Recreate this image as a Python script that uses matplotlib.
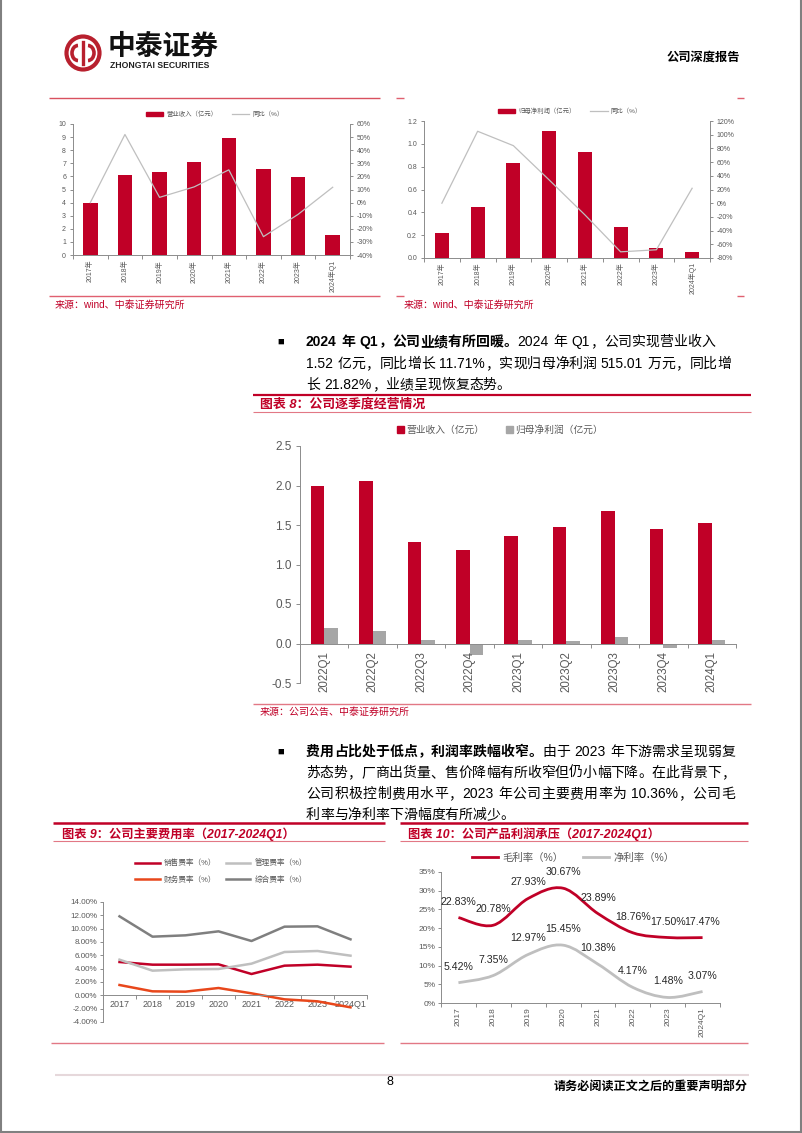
import re
import numpy as np
import matplotlib
matplotlib.use('Agg')
import matplotlib.pyplot as plt
from matplotlib.lines import Line2D
from matplotlib.patches import Patch, Circle, Arc, PathPatch
from matplotlib.path import Path
from matplotlib.ticker import FuncFormatter, MultipleLocator

plt.rcParams['font.family'] = ['Liberation Sans', 'Noto Sans CJK SC']
plt.rcParams['axes.unicode_minus'] = False

# ---- data ----
years = ['2017年', '2018年', '2019年', '2020年', '2021年', '2022年', '2023年', '2024年Q1']
revenue = [4.0, 6.1, 6.35, 7.1, 8.9, 6.55, 5.95, 1.52]
revenue_yoy = [0, 52, 4, 12, 25, -26, -9, 11.71]
net_profit = [0.22, 0.45, 0.83, 1.11, 0.925, 0.27, 0.085, 0.0515]
net_profit_yoy = [0, 105, 84, 34, -17, -71, -68, 21.82]

quarters = ['2022Q1', '2022Q2', '2022Q3', '2022Q4', '2023Q1', '2023Q2', '2023Q3', '2023Q4', '2024Q1']
q_revenue = [2.00, 2.06, 1.29, 1.18, 1.36, 1.47, 1.68, 1.45, 1.52]
q_profit = [0.20, 0.16, 0.05, -0.14, 0.05, 0.03, 0.08, -0.06, 0.05]

periods = ['2017', '2018', '2019', '2020', '2021', '2022', '2023', '2024Q1']
sales_rate = [5.0, 4.6, 4.6, 4.65, 3.2, 4.45, 4.6, 4.3]
admin_rate = [5.35, 3.7, 3.9, 3.95, 4.75, 6.5, 6.65, 5.95]
fin_rate = [1.55, 0.6, 0.55, 1.1, 0.3, -0.6, -0.9, -1.8]
total_rate = [11.85, 8.8, 9.0, 9.6, 8.15, 10.3, 10.35, 8.4]
gross_margin = [22.83, 20.78, 27.93, 30.67, 23.89, 18.76, 17.50, 17.47]
net_margin = [5.42, 7.35, 12.97, 15.45, 10.38, 4.17, 1.48, 3.07]

RED = '#c00027'
PINK = '#e27885'
LGRAY = '#bfbfbf'
DGRAY = '#7f7f7f'
BARGRAY = '#a6a6a6'
ORANGE = '#e8471b'
AXC = '#8c8c8c'
TXT = '#595959'

W, H = 802, 1133
fig = plt.figure(figsize=(8.02, 11.33), dpi=100)
page = fig.add_axes([0, 0, 1, 1])
page.set_xlim(0, W)
page.set_ylim(H, 0)
page.axis('off')


def hline(x0, x1, y, color=PINK, lw=1.0):
    page.plot([x0, x1], [y, y], color=color, lw=lw, solid_capstyle='butt')


def chart_ax(l, t, r, b):
    ax = fig.add_axes([l / W, 1 - b / H, (r - l) / W, (b - t) / H])
    ax.patch.set_alpha(0)
    for s in ['top', 'right']:
        ax.spines[s].set_visible(False)
    for s in ['left', 'bottom']:
        ax.spines[s].set_color(AXC)
        ax.spines[s].set_linewidth(0.7)
    ax.tick_params(colors=AXC, labelcolor=TXT, width=0.7)
    return ax


def cat_axis(ax, labels, fs, rot=90, pad=2):
    n = len(labels)
    ax.set_xlim(-0.5, n - 0.5)
    ax.set_xticks(range(n))
    ax.set_xticklabels(labels, rotation=rot, fontsize=fs, color=TXT, ha='center', va='top')
    ax.set_xticks(np.arange(-0.5, n), minor=True)
    ax.tick_params(axis='x', which='major', length=0, pad=pad)
    ax.tick_params(axis='x', which='minor', length=3, color=AXC, width=0.7)


def pct(fmt):
    return FuncFormatter(lambda v, p: fmt.format(v))


def smooth_path(xs, ys, t=1 / 6):
    pts = np.column_stack([xs, ys]).astype(float)
    verts, codes = [pts[0]], [Path.MOVETO]
    n = len(pts)
    for i in range(n - 1):
        p0, p1 = pts[max(i - 1, 0)], pts[i]
        p2, p3 = pts[i + 1], pts[min(i + 2, n - 1)]
        verts += [p1 + (p2 - p0) * t, p2 - (p3 - p1) * t, p2]
        codes += [Path.CURVE4] * 3
    return Path(verts, codes)


def text_line(segs, x0, y, x1=None, fs=10):
    r = fig.canvas.get_renderer()
    em = fs * 100 / 72
    arts, ws = [], []
    for txt, wt in segs:
        for tok in re.findall(r'[0-9A-Za-z.%]+| |.', txt):
            if tok == ' ':
                arts.append(None)
                ws.append(em * 0.28)
                continue
            t = page.text(x0, y, tok, fontsize=fs, fontweight=wt, ha='left', va='center', color='black')
            arts.append(t)
            if ord(tok[0]) > 0x2E80:
                ws.append(em)
            else:
                ws.append(t.get_window_extent(r).width + em * 0.05)
    gap = 0.0
    if x1 is not None and len(ws) > 1:
        gap = (x1 - x0 - sum(ws)) / (len(ws) - 1)
    x = x0
    for t, w in zip(arts, ws):
        if t is not None:
            t.set_x(x)
        x += w + gap


# ---- page frame / header / footer ----
page.plot([0.8, 0.8], [0, 1132], color='#808080', lw=1.5)
page.plot([800.5, 800.5], [0, 1132], color='#808080', lw=1.5)
page.plot([0, 801], [1132, 1132], color='#808080', lw=1.5)

page.add_patch(Circle((83, 53), 16.5, fill=False, ec='#b8202e', lw=3))
page.add_patch(Arc((78, 53), 12, 15, theta1=90, theta2=270, color='#b8202e', lw=2.6))
page.add_patch(Arc((88, 53), 12, 15, theta1=-90, theta2=90, color='#b8202e', lw=2.6))
page.plot([83, 83], [42, 64], color='#b8202e', lw=2.4)
page.text(108, 48, '中泰证券', fontsize=20, fontweight='bold', ha='left', va='center', color='#111111')
page.text(110, 66, 'ZHONGTAI SECURITIES', fontsize=6.2, fontweight='bold', ha='left', va='center', color='#222222')
page.text(667, 58, '公司深度报告', fontsize=8.8, fontweight='bold', ha='left', va='center', color='black')

hline(51, 384, 1043)
hline(400, 748, 1043)
hline(55, 749, 1075, color='#e6d8db', lw=1.5)
page.text(390, 1082, '8', fontsize=9, ha='center', va='center', color='black')
page.text(748, 1087, '请务必阅读正文之后的重要声明部分', fontsize=8.7, fontweight='bold', ha='right', va='center', color='black')

# ---- top-left chart: annual revenue ----
hline(49, 380, 98, color='#d9515f', lw=1.0)
hline(49, 380, 296, color='#e06070', lw=1.0)
page.text(55, 305, '来源：wind、中泰证券研究所', fontsize=7.2, ha='left', va='center', color=RED)

x8 = np.arange(len(years))
ax = chart_ax(73, 124, 350, 255)
ax.bar(x8, revenue, width=0.42, color=RED)
ax.set_ylim(0, 10)
ax.yaxis.set_major_locator(MultipleLocator(1))
ax.tick_params(axis='y', labelsize=5, length=2, pad=3)
cat_axis(ax, years, 5, pad=3.5)
ax2 = ax.twinx()
ax2.plot(x8, revenue_yoy, color=LGRAY, lw=0.9)
ax2.set_ylim(-40, 60)
ax2.yaxis.set_major_locator(MultipleLocator(10))
ax2.yaxis.set_major_formatter(pct('{:.0f}%'))
for s in ['top', 'left', 'bottom']:
    ax2.spines[s].set_visible(False)
ax2.spines['right'].set_color(AXC)
ax2.spines['right'].set_linewidth(0.7)
ax2.tick_params(axis='y', labelsize=5, length=2, pad=3, colors=AXC, labelcolor=TXT, width=0.7)
fig.legend([Patch(color=RED), Line2D([], [], color=LGRAY, lw=0.9)], ['营业收入（亿元）', '同比（%）'],
           loc='center', bbox_to_anchor=(215 / W, 1 - 114 / H), ncol=2, frameon=False, fontsize=4.6,
           labelcolor=TXT, handlelength=2.7, handleheight=0.6, handletextpad=0.5, columnspacing=2.3)

# ---- top-right chart: annual net profit ----
for xx in [(396, 404), (737, 744)]:
    hline(xx[0], xx[1], 98, color='#e06070', lw=1.0)
    hline(xx[0], xx[1], 296, color='#e06070', lw=1.0)
page.text(404, 305, '来源：wind、中泰证券研究所', fontsize=7.2, ha='left', va='center', color=RED)

ax = chart_ax(424, 121, 710, 258)
ax.bar(x8, net_profit, width=0.39, color=RED)
ax.set_ylim(0, 1.2)
ax.yaxis.set_major_locator(MultipleLocator(0.2))
ax.yaxis.set_major_formatter(pct('{:.1f}'))
ax.tick_params(axis='y', labelsize=5, length=2, pad=3)
cat_axis(ax, years, 5, pad=3)
ax2 = ax.twinx()
ax2.plot(x8, net_profit_yoy, color=LGRAY, lw=0.9)
ax2.set_ylim(-80, 120)
ax2.yaxis.set_major_locator(MultipleLocator(20))
ax2.yaxis.set_major_formatter(pct('{:.0f}%'))
for s in ['top', 'left', 'bottom']:
    ax2.spines[s].set_visible(False)
ax2.spines['right'].set_color(AXC)
ax2.spines['right'].set_linewidth(0.7)
ax2.tick_params(axis='y', labelsize=5, length=2, pad=3, colors=AXC, labelcolor=TXT, width=0.7)
fig.legend([Patch(color=RED), Line2D([], [], color=LGRAY, lw=0.9)], ['归母净利润（亿元）', '同比（%）'],
           loc='center', bbox_to_anchor=(570 / W, 1 - 111 / H), ncol=2, frameon=False, fontsize=4.6,
           labelcolor=TXT, handlelength=2.7, handleheight=0.6, handletextpad=0.5, columnspacing=2.3)

# ---- paragraph 1 ----
page.text(281, 342, '■', fontsize=8, ha='center', va='center', color='black')
text_line([('2024 年 Q1，公司业绩有所回暖。', 'bold'), ('2024 年 Q1，公司实现营业收入', 'normal')], 306, 342, 715)
text_line([('1.52 亿元，同比增长 11.71%，实现归母净利润 515.01 万元，同比增', 'normal')], 306, 364, 731)
text_line([('长 21.82%，业绩呈现恢复态势。', 'normal')], 306, 385)

# ---- middle chart: quarterly ----
hline(253, 751, 395, color=RED, lw=1.6)
page.text(260, 404, '图表 8：公司逐季度经营情况', fontsize=9.3, fontweight='bold', fontstyle='italic',
          ha='left', va='center', color=RED)
hline(253, 751, 412, color=PINK, lw=0.8)
hline(253, 751, 704, color=PINK, lw=1.0)
page.text(260, 712, '来源：公司公告、中泰证券研究所', fontsize=7.2, ha='left', va='center', color=RED)

x9 = np.arange(len(quarters))
ax = chart_ax(300, 446, 736, 683)
ax.bar(x9 - 0.14, q_revenue, width=0.28, color=RED)
ax.bar(x9 + 0.14, q_profit, width=0.28, color=BARGRAY)
ax.set_ylim(-0.5, 2.5)
ax.yaxis.set_major_locator(MultipleLocator(0.5))
ax.yaxis.set_major_formatter(pct('{:.1f}'))
ax.tick_params(axis='y', labelsize=8.5, length=3, pad=3)
ax.spines['bottom'].set_position(('data', 0))
cat_axis(ax, quarters, 8.3, pad=5.5)
fig.legend([Patch(color=RED), Patch(color=BARGRAY)], ['营业收入（亿元）', '归母净利润（亿元）'],
           loc='center', bbox_to_anchor=(500 / W, 1 - 430 / H), ncol=2, frameon=False, fontsize=7,
           labelcolor=TXT, handlelength=0.7, handleheight=0.7, handletextpad=0.3, columnspacing=2.2)

# ---- paragraph 2 ----
page.text(281, 752, '■', fontsize=8, ha='center', va='center', color='black')
text_line([('费用占比处于低点，利润率跌幅收窄。', 'bold'), ('由于 2023 年下游需求呈现弱复', 'normal')], 306, 752, 735)
text_line([('苏态势，厂商出货量、售价降幅有所收窄但仍小幅下降。在此背景下，', 'normal')], 306, 773, 735)
text_line([('公司积极控制费用水平，2023 年公司主要费用率为 10.36%，公司毛', 'normal')], 306, 794, 735)
text_line([('利率与净利率下滑幅度有所减少。', 'normal')], 306, 815)

# ---- bottom-left chart: expense ratios ----
hline(53, 385, 823, color=RED, lw=1.8)
page.text(62, 834, '图表 9：公司主要费用率（2017-2024Q1）', fontsize=8.8, fontweight='bold', fontstyle='italic',
          ha='left', va='center', color=RED)
hline(53, 385, 841, color=PINK, lw=0.8)

ax = chart_ax(103, 902, 367, 1022)
ax.plot(x8, sales_rate, color=RED, lw=1.8)
ax.plot(x8, admin_rate, color=LGRAY, lw=1.8)
ax.plot(x8, fin_rate, color=ORANGE, lw=1.8)
ax.plot(x8, total_rate, color=DGRAY, lw=1.8)
ax.set_ylim(-4, 14)
ax.yaxis.set_major_locator(MultipleLocator(2))
ax.yaxis.set_major_formatter(pct('{:.2f}%'))
ax.tick_params(axis='y', labelsize=5.8, length=2, pad=2)
ax.spines['bottom'].set_position(('data', 0))
cat_axis(ax, periods, 6.5, rot=0, pad=3.5)
h = {k: Line2D([], [], color=c, lw=1.8) for k, c in
     [('s', RED), ('a', LGRAY), ('f', ORANGE), ('t', DGRAY)]}
fig.legend([h['s'], h['f'], h['a'], h['t']], ['销售费率（%）', '财务费率（%）', '管理费率（%）', '综合费率（%）'],
           loc='center', bbox_to_anchor=(221 / W, 1 - 871.5 / H), ncol=2, frameon=False, fontsize=5.5,
           labelcolor=TXT, handlelength=3.2, handletextpad=0.5, columnspacing=1.3, labelspacing=1.1)

# ---- bottom-right chart: margins ----
hline(400, 748, 823, color=RED, lw=1.8)
page.text(408, 834, '图表 10：公司产品利润承压（2017-2024Q1）', fontsize=8.8, fontweight='bold', fontstyle='italic',
          ha='left', va='center', color=RED)
hline(400, 748, 841, color=PINK, lw=0.8)

ax = chart_ax(441, 872, 720, 1003)
ax.add_patch(PathPatch(smooth_path(x8, gross_margin), fill=False, ec=RED, lw=2.0))
ax.add_patch(PathPatch(smooth_path(x8, net_margin), fill=False, ec=LGRAY, lw=2.0))
for i in range(len(periods)):
    ax.annotate(f'{gross_margin[i]:.2f}%', (i, gross_margin[i]), xytext=(0, 11.5), textcoords='offset points',
                ha='center', va='center', fontsize=7.6, color='#262626')
    ax.annotate(f'{net_margin[i]:.2f}%', (i, net_margin[i]), xytext=(0, 11.5), textcoords='offset points',
                ha='center', va='center', fontsize=7.6, color='#262626')
ax.set_ylim(0, 35)
ax.yaxis.set_major_locator(MultipleLocator(5))
ax.yaxis.set_major_formatter(pct('{:.0f}%'))
ax.tick_params(axis='y', labelsize=6, length=2, pad=2)
cat_axis(ax, periods, 6, pad=3)
fig.legend([Line2D([], [], color=RED, lw=2.0), Line2D([], [], color=LGRAY, lw=2.0)], ['毛利率（%）', '净利率（%）'],
           loc='center', bbox_to_anchor=(573 / W, 1 - 858 / H), ncol=2, frameon=False, fontsize=7.5,
           labelcolor=TXT, handlelength=2.5, handletextpad=0.4, columnspacing=1.9)

fig.savefig('out.png', dpi=100)
